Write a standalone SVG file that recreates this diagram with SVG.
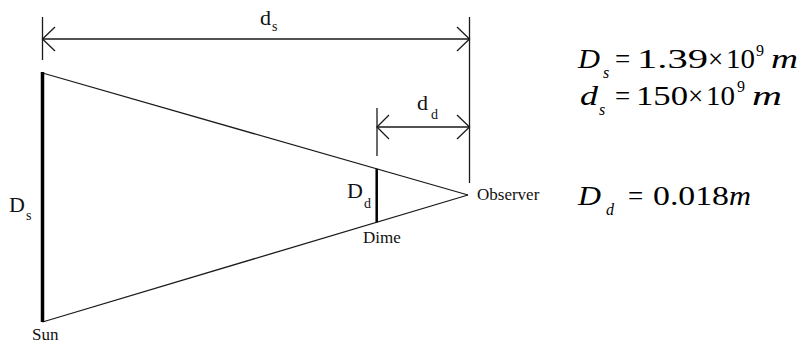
<svg xmlns="http://www.w3.org/2000/svg" width="801" height="345" viewBox="0 0 801 345">
<style>
.ln{stroke:#1a1a1a;stroke-width:1.3;fill:none}
.thick{stroke:#000;stroke-width:3.5;fill:none}
.mid{stroke:#000;stroke-width:2.5;fill:none}
text{font-family:'Liberation Serif','Times New Roman','DejaVu Serif',serif}
.t{fill:#111}
.lab{font-size:17px}
.big{font-size:22px}
.sub{font-size:14px}
.eq{fill:#000;font-size:27px}
.it{font-style:italic}
.esub{font-size:16px}
</style>
<rect width="801" height="345" fill="#fff"/>
<g id="connectors">
  <line class="ln" x1="42.5" y1="17" x2="42.5" y2="60"/>
  <line class="ln" x1="469.5" y1="17" x2="469.5" y2="183"/>
  <line class="ln" x1="42.5" y1="39" x2="469.5" y2="39"/>
  <polyline class="ln" points="55,27 42.5,39 55,51"/>
  <polyline class="ln" points="457,27 469.5,39 457,51"/>
  <line class="ln" x1="377" y1="108" x2="377" y2="156"/>
  <line class="ln" x1="377" y1="127" x2="469.5" y2="127"/>
  <polyline class="ln" points="389,115 377,127 389,139"/>
  <polyline class="ln" points="457,115 469.5,127 457,139"/>
  <line class="ln" x1="42.5" y1="73" x2="468" y2="195"/>
  <line class="ln" x1="42.5" y1="322" x2="468" y2="195"/>
</g>
<g id="sun">
  <line class="thick" x1="42.5" y1="72" x2="42.5" y2="322"/>
  <text class="t lab" x="32" y="340">Sun</text>
  <text class="t big" x="9" y="212">D</text>
  <text class="t sub" x="26" y="220">s</text>
</g>
<g id="dime">
  <line class="mid" x1="376.7" y1="168.8" x2="376.7" y2="222.3"/>
  <text class="t lab" x="363" y="243">Dime</text>
  <text class="t big" x="347" y="198">D</text>
  <text class="t sub" x="364" y="208">d</text>
</g>
<g id="observer">
  <text class="t lab" x="477" y="200">Observer</text>
</g>
<g id="label-ds">
  <text class="t big" x="260" y="25">d</text>
  <text class="t sub" x="272" y="31">s</text>
</g>
<g id="label-dd">
  <text class="t big" x="417" y="110">d</text>
  <text class="t sub" x="431" y="119">d</text>
</g>
<g id="eq1">
  <text class="eq it" x="578" y="68" textLength="22" lengthAdjust="spacingAndGlyphs">D</text>
  <text class="eq it esub" x="603" y="78">s</text>
  <text class="eq" x="615" y="68">=</text>
  <text class="eq" x="637" y="68" textLength="71" lengthAdjust="spacingAndGlyphs">1.39</text>
  <text class="eq" x="708" y="68">×</text>
  <text class="eq" x="726" y="68" textLength="29" lengthAdjust="spacingAndGlyphs">10</text>
  <text class="eq esub" x="756" y="56">9</text>
  <text class="eq it" x="771" y="68" textLength="27" lengthAdjust="spacingAndGlyphs">m</text>
</g>
<g id="eq2">
  <text class="eq it" x="580" y="105" textLength="18" lengthAdjust="spacingAndGlyphs">d</text>
  <text class="eq it esub" x="599" y="115">s</text>
  <text class="eq" x="615" y="105">=</text>
  <text class="eq" x="636" y="105" textLength="52" lengthAdjust="spacingAndGlyphs">150</text>
  <text class="eq" x="688" y="105">×</text>
  <text class="eq" x="706" y="105" textLength="29" lengthAdjust="spacingAndGlyphs">10</text>
  <text class="eq esub" x="737" y="92">9</text>
  <text class="eq it" x="752" y="105" textLength="30" lengthAdjust="spacingAndGlyphs">m</text>
</g>
<g id="eq3">
  <text class="eq it" x="578" y="205" textLength="23" lengthAdjust="spacingAndGlyphs">D</text>
  <text class="eq it esub" x="606" y="215">d</text>
  <text class="eq" x="628" y="205">=</text>
  <text class="eq" x="653" y="205" textLength="76" lengthAdjust="spacingAndGlyphs">0.018</text>
  <text class="eq it" x="729" y="205" textLength="22" lengthAdjust="spacingAndGlyphs">m</text>
</g>
</svg>
